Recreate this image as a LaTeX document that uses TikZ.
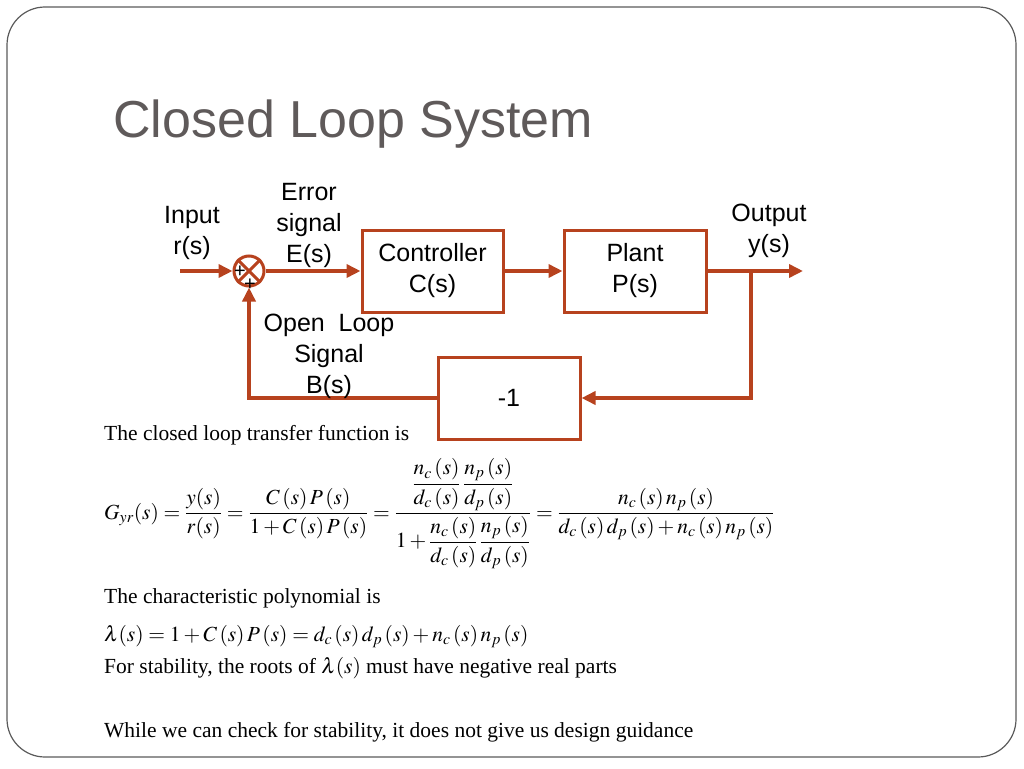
\documentclass[tikz,border=0pt]{standalone}
\usepackage{mathptmx}
\usepackage{amsmath}
\usepackage[no-math]{fontspec}
\setmainfont{Liberation Serif}
\newfontfamily\diagfont{Liberation Sans}
\usepackage{tikz}
\usetikzlibrary{calc, positioning, arrows.meta}

\definecolor{loopred}{RGB}{183,66,30}
\definecolor{titlegray}{RGB}{95,90,90}
\definecolor{framegray}{RGB}{90,90,90}

\tikzset{
  blk/.style={draw=loopred, line width=3pt, font=\diagfont\fontsize{25}{31}\selectfont, align=center},
  sig/.style={draw=loopred, line width=4pt, -{Triangle[length=14pt,width=13pt]}},
  lbl/.style={font=\diagfont\fontsize{25}{31}\selectfont, align=center},
  txt/.style={font=\fontsize{21.5}{25}\selectfont, anchor=base west, inner sep=0pt}
}

\begin{document}
\begin{tikzpicture}[x=1pt, y=-1pt]
            \useasboundingbox (0,0) rectangle (1024,768);
            \draw[framegray, line width=1.2pt, rounded corners=38pt] (7,7) rectangle (1016,757);
            \node[font=\diagfont\fontsize{52}{60}\selectfont, text=titlegray, anchor=base west, inner sep=0pt] (title) at (113,137) {Closed Loop System};

            % blocks
            \node[draw=loopred, line width=3pt, circle, minimum size=30pt, inner sep=0pt] (sum) at (249,271) {};
            \draw[loopred, line width=3pt] (sum.north west) -- (sum.south east) (sum.north east) -- (sum.south west);
            \node[blk, minimum width=141pt, minimum height=82pt] (ctrl) at (432.5,271) {Controller\\C(s)};
            \node[blk, minimum width=142pt, minimum height=82pt] (plant) at (635,271) {Plant\\P(s)};
            \node[blk, minimum width=142pt, minimum height=82pt] (gain) at (509,398) {-1};
            \node[font=\diagfont\fontsize{20}{20}\selectfont, inner sep=0pt] (pa) at (240,272) {+};
            \node[font=\diagfont\fontsize{20}{20}\selectfont, inner sep=0pt] (pb) at (250,285) {+};

            % signals
            \coordinate (in) at (180,271);
            \coordinate (out) at (803,271);
            \coordinate (tap) at (751,271);
            \draw[sig] (in) -- (sum.west);
            \draw[sig] (sum.east) -- (ctrl.west);
            \draw[sig] (ctrl.east) -- (plant.west);
            \draw[sig] (plant.east) -- (out);
            \draw[sig] (tap) |- (gain.east);
            \draw[sig] (gain.west) -| (sum.south);

            % labels
            \node[lbl] (inlbl) at (192,233) {Input\\r(s)};
            \node[lbl] (errlbl) at (309,225) {Error\\signal\\E(s)};
            \node[lbl] (outlbl) at (769,231) {Output\\y(s)};
            \node[lbl] (bslbl) at (329,356) {Open~~Loop\\Signal\\B(s)};

            % text
            \node[txt] (t1) at (104,440) {The closed loop transfer function is};
            \node[txt] (eq1) at (104,519) {$\displaystyle G_{yr}(s)=\frac{y(s)}{r(s)}=\frac{C\,(s)\,P\,(s)}{1+C\,(s)\,P\,(s)}=\frac{\dfrac{n_c\,(s)}{d_c\,(s)}\,\dfrac{n_p\,(s)}{d_p\,(s)}}{1+\dfrac{n_c\,(s)}{d_c\,(s)}\,\dfrac{n_p\,(s)}{d_p\,(s)}}=\frac{n_c\,(s)\,n_p\,(s)}{d_c\,(s)\,d_p\,(s)+n_c\,(s)\,n_p\,(s)}$};
            \node[txt] (t2) at (104,603) {The characteristic polynomial is};
            \node[txt] (eq2) at (104,641) {$\lambda(s)=1+C\,(s)\,P\,(s)=d_c\,(s)\,d_p\,(s)+n_c\,(s)\,n_p\,(s)$};
            \node[txt] (t3) at (104,673) {For stability, the roots of $\lambda(s)$ must have negative real parts};
            \node[txt] (t4) at (104,737) {While we can check for stability, it does not give us design guidance};
        \end{tikzpicture}
\end{document}
